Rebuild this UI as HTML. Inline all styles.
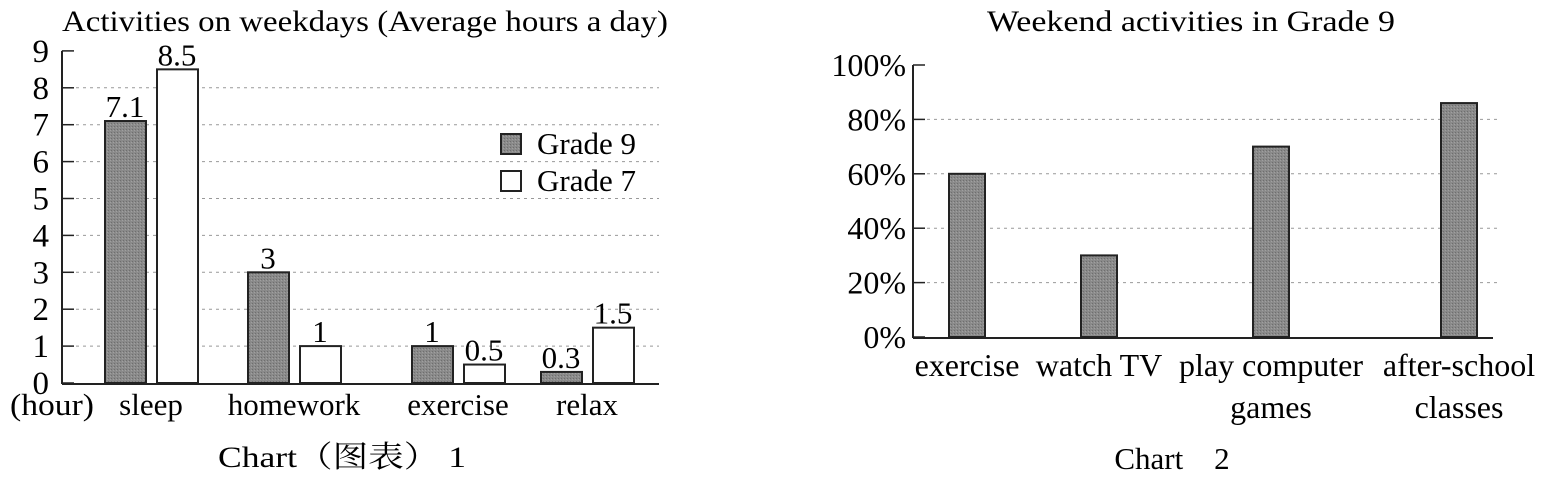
<!DOCTYPE html>
<html><head><meta charset="utf-8"><style>
body{margin:0;background:#fff;}
svg{display:block;font-family:"Liberation Serif","Noto Serif CJK SC",serif;}
</style></head><body>
<svg width="1559" height="488" viewBox="0 0 1559 488">
<defs><pattern id="g" width="3" height="3" patternUnits="userSpaceOnUse"><rect width="3" height="3" fill="#8a8a8a"/><rect width="1" height="1" fill="#6e6e6e"/><rect x="2" y="1" width="1" height="1" fill="#a0a0a0"/></pattern></defs>
<g id="c1"></g>
<g id="c2"></g>
</svg>
<script>
const cats1=["sleep","homework","exercise","relax"];
const grade9=[7.1,3,1,0.3];
const grade7=[8.5,1,0.5,1.5];
const labels9=["7.1","3","1","0.3"];
const labels7=["8.5","1","0.5","1.5"];
const ticks1=[0,1,2,3,4,5,6,7,8,9];
const cats2=[["exercise"],["watch TV"],["play computer","games"],["after-school","classes"]];
const vals2=[60,30,70,86];
const ticks2=[0,20,40,60,80,100];
const NS="http://www.w3.org/2000/svg";
function mk(p,t,a,txt){const e=document.createElementNS(NS,t);for(const k in a)e.setAttribute(k,a[k]);if(txt!==undefined)e.textContent=txt;p.appendChild(e);return e;}
// Chart 1
const c1=document.getElementById('c1');
const y1=v=>383-v*36.9;
const ax1=62, gx0=[105,248,412,541];
mk(c1,'text',{x:62,y:31,'font-size':30,textLength:606,lengthAdjust:'spacingAndGlyphs',},'Activities on weekdays (Average hours a day)');
ticks1.forEach(t=>{
 if(t>0&&t<9){const g=mk(c1,'line',{x1:ax1,x2:659,y1:y1(t),y2:y1(t),stroke:'#999','stroke-dasharray':'3,4','stroke-width':1});}
 mk(c1,'line',{x1:ax1,x2:ax1+12,y1:y1(t),y2:y1(t),stroke:'#222','stroke-width':1.5});
 const l=mk(c1,'text',{x:49,y:y1(t)+11,'font-size':33,'text-anchor':'end'},String(t));
 
});
mk(c1,'line',{x1:ax1,x2:ax1,y1:y1(9),y2:384,stroke:'#222','stroke-width':2});
mk(c1,'line',{x1:ax1,x2:659,y1:384,y2:384,stroke:'#222','stroke-width':2});
cats1.forEach((c,i)=>{
 const x9=gx0[i],x7=gx0[i]+52;
 const b9=mk(c1,'rect',{x:x9,y:y1(grade9[i]),width:41,height:383-y1(grade9[i]),fill:'url(#g)',stroke:'#222','stroke-width':2});
 
 const b7=mk(c1,'rect',{x:x7,y:y1(grade7[i]),width:41,height:383-y1(grade7[i]),fill:'#fff',stroke:'#222','stroke-width':2});
 
 const v9=mk(c1,'text',{x:x9+20,y:y1(grade9[i])-4,'font-size':31,'text-anchor':'middle'},labels9[i]);
 
 const v7=mk(c1,'text',{x:x7+20,y:y1(grade7[i])-4,'font-size':31,'text-anchor':'middle'},labels7[i]);
 
 const cl=mk(c1,'text',{x:x9+46,y:415,'font-size':31,'text-anchor':'middle'},c);
 
});
mk(c1,'text',{x:10,y:415,'font-size':31,textLength:84,lengthAdjust:'spacingAndGlyphs',},'(hour)');
mk(c1,'text',{x:218,y:467,'font-size':30,textLength:248,lengthAdjust:'spacingAndGlyphs',},'Chart（图表） 1');
mk(c1,'rect',{x:501,y:134,width:20,height:20,fill:'url(#g)',stroke:'#222','stroke-width':2,});
mk(c1,'text',{x:537,y:154,'font-size':31,},'Grade 9');
mk(c1,'rect',{x:501,y:171,width:20,height:20,fill:'#fff',stroke:'#222','stroke-width':2,});
mk(c1,'text',{x:537,y:191,'font-size':31,},'Grade 7');
// Chart 2
const c2=document.getElementById('c2');
const y2=v=>337-v*2.72;
const ax2=913, bx=[949,1081,1253,1441];
mk(c2,'text',{x:987,y:31,'font-size':30,textLength:408,lengthAdjust:'spacingAndGlyphs',},'Weekend activities in Grade 9');
ticks2.forEach(t=>{
 if(t>0&&t<100){const g=mk(c2,'line',{x1:ax2,x2:1500,y1:y2(t),y2:y2(t),stroke:'#999','stroke-dasharray':'3,4','stroke-width':1});}
 mk(c2,'line',{x1:ax2,x2:ax2+12,y1:y2(t),y2:y2(t),stroke:'#222','stroke-width':1.5});
 const l=mk(c2,'text',{x:906,y:y2(t)+11,'font-size':32,'text-anchor':'end'},t+'%');
 
});
mk(c2,'line',{x1:ax2,x2:ax2,y1:y2(100),y2:338,stroke:'#222','stroke-width':2});
mk(c2,'line',{x1:ax2,x2:1493,y1:338,y2:338,stroke:'#222','stroke-width':2});
vals2.forEach((v,i)=>{
 const b=mk(c2,'rect',{x:bx[i],y:y2(v),width:36,height:337-y2(v),fill:'url(#g)',stroke:'#222','stroke-width':2});
 
 cats2[i].forEach((s,j)=>{
  const t=mk(c2,'text',{x:bx[i]+18,y:376+j*42,'font-size':32,'text-anchor':'middle'},s);
  
 });
});
mk(c2,'text',{x:1172,y:469,'font-size':31,'text-anchor':'middle',},'Chart　2');
</script>
</body></html>
